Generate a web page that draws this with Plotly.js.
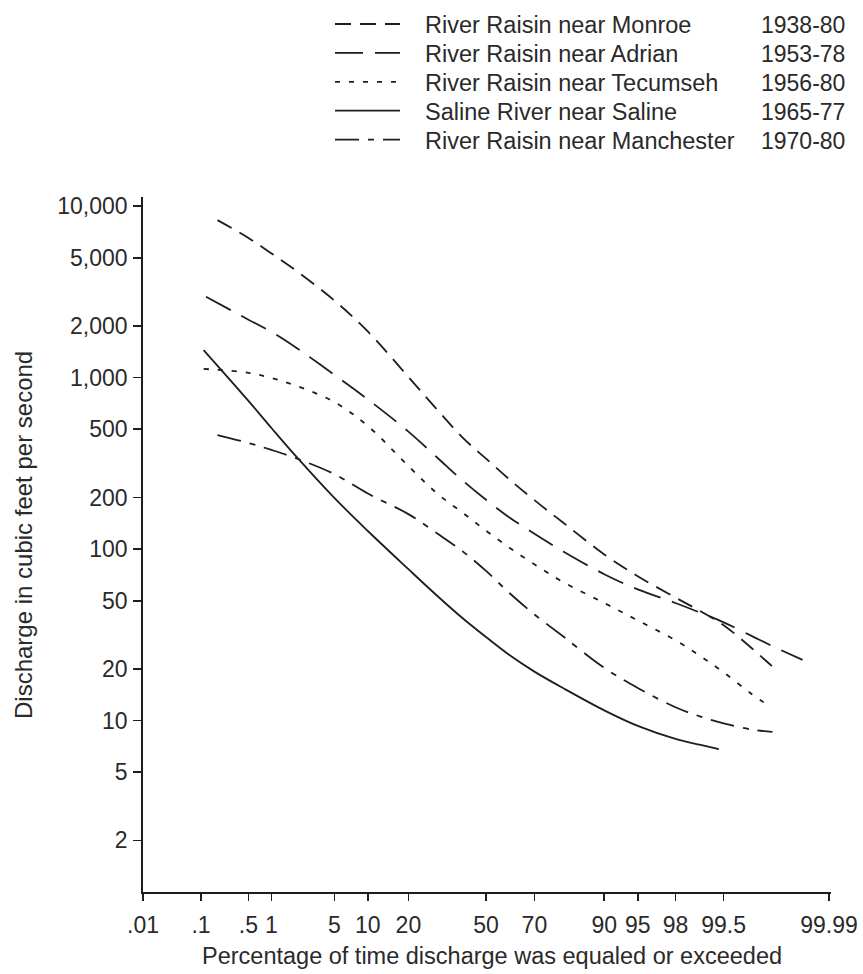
<!DOCTYPE html>
<html>
<head>
<meta charset="utf-8">
<script src="https://cdn.plot.ly/plotly-3.0.1.min.js"></script>
<style>
  html, body { margin: 0; padding: 0; background: #ffffff; }
  #chart { width: 863px; height: 974px; }
</style>
</head>
<body>
<div id="chart"></div>
<script>
// ---------------- Data ----------------
// x: percentage of time discharge was equaled or exceeded
// y: discharge in cubic feet per second
const monroePct = [0.18, 0.5, 1, 2, 5, 10, 20, 30, 40, 50, 60, 70, 80, 90, 95, 98, 99, 99.5, 99.8, 99.9, 99.92];
const monroeQ   = [8300, 6530, 5310, 4190, 2820, 1860, 1010, 646, 447, 337, 255, 193, 142, 93.1, 69.5, 52.2, 43.4, 36.0, 26.5, 21.0, 19.6];

const adrianPct = [0.12, 0.5, 1, 2, 5, 10, 20, 30, 40, 50, 60, 70, 80, 90, 95, 98, 99, 99.5, 99.8, 99.9, 99.97];
const adrianQ   = [2965, 2180, 1850, 1490, 1040, 747, 485, 340, 251, 194, 153, 123, 96.6, 71.4, 58.2, 48.5, 42.5, 37.4, 31.2, 27.4, 22.6];

const tecumsehPct = [0.11, 0.5, 1, 2, 5, 10, 20, 30, 40, 50, 60, 70, 80, 90, 95, 98, 99, 99.5, 99.8, 99.895];
const tecumsehQ   = [1125, 1068, 996, 895, 721, 523, 305, 210, 163, 128, 102, 81.5, 64, 48.5, 38.4, 29.4, 23.7, 19.1, 14.3, 12.1];

const salinePct = [0.11, 0.5, 1, 2, 5, 10, 20, 30, 40, 50, 60, 70, 80, 90, 95, 98, 99, 99.42];
const salineQ   = [1450, 733, 509, 345, 199, 127.6, 76.4, 53.1, 39.5, 30.7, 24.1, 19.3, 15.4, 11.47, 9.31, 7.82, 7.21, 6.81];

const manchesterPct = [0.18, 0.5, 1, 2, 5, 10, 20, 30, 40, 50, 60, 70, 80, 90, 95, 98, 99, 99.5, 99.8, 99.905];
const manchesterQ   = [463, 416, 379, 338, 274, 211, 160, 123, 97, 74.7, 55.5, 41.6, 30.8, 20.3, 15.5, 11.96, 10.55, 9.63, 8.86, 8.59];

const seriesNames = ["River Raisin near Monroe", "River Raisin near Adrian", "River Raisin near Tecumseh",
                     "Saline River near Saline", "River Raisin near Manchester"];
const seriesYears = ["1938-80", "1953-78", "1956-80", "1965-77", "1970-80"];

const xTickPct   = [0.01, 0.1, 0.5, 1, 5, 10, 20, 50, 70, 90, 95, 98, 99.5, 99.99];
const xTickText  = [".01", ".1", ".5", "1", "5", "10", "20", "50", "70", "90", "95", "98", "99.5", "99.99"];
const yTickVals  = [2, 5, 10, 20, 50, 100, 200, 500, 1000, 2000, 5000, 10000];
const yTickText  = ["2", "5", "10", "20", "50", "100", "200", "500", "1,000", "2,000", "5,000", "10,000"];

// ---------------- Normal-probability scale ----------------
function probit(p) {
  // Acklam's inverse normal CDF
  const a = [-3.969683028665376e+01, 2.209460984245205e+02, -2.759285104469687e+02, 1.383577518672690e+02, -3.066479806614716e+01, 2.506628277459239e+00];
  const b = [-5.447609879822406e+01, 1.615858368580409e+02, -1.556989798598866e+02, 6.680131188771972e+01, -1.328068155288572e+01];
  const c = [-7.784894002430293e-03, -3.223964580411365e-01, -2.400758277161838e+00, -2.549732539343734e+00, 4.374664141464968e+00, 2.938163982698783e+00];
  const d = [7.784695709041462e-03, 3.224671290700398e-01, 2.445134137142996e+00, 3.754408661907416e+00];
  const pl = 0.02425, ph = 1 - pl;
  let q, r;
  if (p < pl) {
    q = Math.sqrt(-2 * Math.log(p));
    return (((((c[0]*q + c[1])*q + c[2])*q + c[3])*q + c[4])*q + c[5]) / ((((d[0]*q + d[1])*q + d[2])*q + d[3])*q + 1);
  } else if (p <= ph) {
    q = p - 0.5; r = q*q;
    return (((((a[0]*r + a[1])*r + a[2])*r + a[3])*r + a[4])*r + a[5])*q / (((((b[0]*r + b[1])*r + b[2])*r + b[3])*r + b[4])*r + 1);
  } else {
    q = Math.sqrt(-2 * Math.log(1 - p));
    return -(((((c[0]*q + c[1])*q + c[2])*q + c[3])*q + c[4])*q + c[5]) / ((((d[0]*q + d[1])*q + d[2])*q + d[3])*q + 1);
  }
}
const pz = pct => probit(pct / 100);

// ---------------- Styles ----------------
const FONT = "Liberation Sans, Arial, Helvetica, sans-serif";
const INK = "#1e1e1e";
const TXT = "#2a2a2a";
const dashes = ["16px,9px", "28px,12px", "5px,9px", "solid", "24px,9px,6px,9px"];
const LW = 1.8;

const allPct = [monroePct, adrianPct, tecumsehPct, salinePct, manchesterPct];
const allQ   = [monroeQ, adrianQ, tecumsehQ, salineQ, manchesterQ];

const traces = allPct.map((pcts, i) => ({
  type: "scatter",
  mode: "lines",
  name: seriesNames[i],
  x: pcts.map(pz),
  y: allQ[i],
  line: { color: INK, width: LW, dash: dashes[i], shape: "spline", smoothing: 1 },
  hoverinfo: "skip",
  showlegend: false
}));

// ---------------- Layout geometry (pixels) ----------------
const W = 863, H = 974;
const M = { l: 143, r: 32, t: 197, b: 82 };
const plotW = W - M.l - M.r, plotH = H - M.t - M.b;
const px2paperX = px => (px - M.l) / plotW;
const py2paperY = py => (H - M.b - py) / plotH;

// custom legend block (above the plot)
const legRow0 = 25, legStep = 28.9;
const legLineX0 = 335, legLineX1 = 400, legTextX = 423, legYearX = 759;
const shapes = [], annotations = [];
seriesNames.forEach((nm, i) => {
  const y = legRow0 + i * legStep;
  shapes.push({
    type: "line", xref: "paper", yref: "paper",
    x0: px2paperX(legLineX0), x1: px2paperX(legLineX1),
    y0: py2paperY(y - 1), y1: py2paperY(y - 1),
    line: { color: INK, width: LW, dash: dashes[i] }
  });
  annotations.push({
    xref: "paper", yref: "paper", x: px2paperX(legTextX), y: py2paperY(y),
    xanchor: "left", yanchor: "middle", showarrow: false, text: nm,
    font: { family: FONT, size: 23.5, color: TXT }
  });
  annotations.push({
    xref: "paper", yref: "paper", x: px2paperX(legYearX), y: py2paperY(y),
    xanchor: "left", yanchor: "middle", showarrow: false, text: seriesYears[i],
    font: { family: FONT, size: 23, color: TXT }
  });
});

// axis titles
annotations.push({
  xref: "paper", yref: "paper", x: px2paperX(492), y: py2paperY(956),
  xanchor: "center", yanchor: "middle", showarrow: false,
  text: "Percentage of time discharge was equaled or exceeded",
  font: { family: FONT, size: 23.5, color: TXT }
});
annotations.push({
  xref: "paper", yref: "paper", x: px2paperX(23), y: py2paperY(535),
  xanchor: "center", yanchor: "middle", showarrow: false, textangle: -90,
  text: "Discharge in cubic feet per second",
  font: { family: FONT, size: 24, color: TXT }
});

const layout = {
  width: W, height: H,
  margin: M,
  paper_bgcolor: "#ffffff", plot_bgcolor: "#ffffff",
  font: { family: FONT, size: 23, color: TXT },
  showlegend: false,
  xaxis: {
    type: "linear",
    range: [pz(0.01), 3.74],
    tickmode: "array",
    tickvals: xTickPct.map(pz),
    ticktext: xTickText,
    ticks: "outside", ticklen: 7, tickwidth: 1.6, tickcolor: INK,
    showline: true, linecolor: INK, linewidth: 1.8,
    showgrid: false, zeroline: false,
    tickfont: { family: FONT, size: 23, color: TXT },
    ticklabelstandoff: 5,
    fixedrange: true
  },
  yaxis: {
    type: "log",
    range: [0, 4.054],
    tickmode: "array",
    tickvals: yTickVals,
    ticktext: yTickText,
    ticks: "outside", ticklen: 8, tickwidth: 1.6, tickcolor: INK,
    showline: true, linecolor: INK, linewidth: 1.8,
    showgrid: false, zeroline: false,
    tickfont: { family: FONT, size: 23, color: TXT },
    ticklabelstandoff: 1,
    fixedrange: true
  },
  shapes: shapes,
  annotations: annotations
};

Plotly.newPlot("chart", traces, layout, { staticPlot: true, displayModeBar: false });
</script>
</body>
</html>
